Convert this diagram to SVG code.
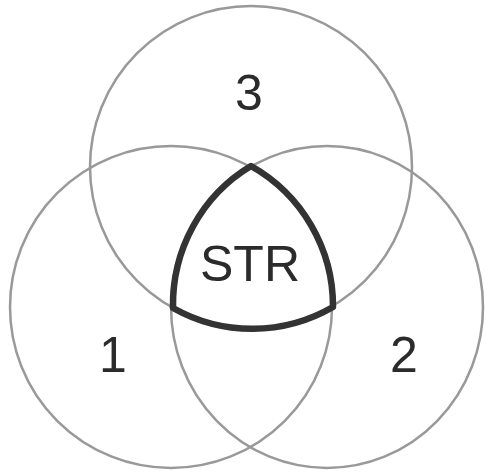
<svg xmlns="http://www.w3.org/2000/svg" width="485" height="472" viewBox="0 0 485 472">
  <style>
    .set { fill: none; stroke: #999999; stroke-width: 2.5; }
    .lbl { font-family: "Liberation Sans", Arial, sans-serif; font-size: 50px; fill: #2b2b2b; text-anchor: middle; }
    .core { fill: none; stroke: #333333; stroke-width: 6.5; stroke-linejoin: round; }
  </style>
  <rect width="485" height="472" fill="#ffffff"/>
  <g id="set3">
    <circle class="set" cx="251" cy="167" r="161"/>
  </g>
  <g id="set1">
    <circle class="set" cx="171" cy="307" r="161"/>
  </g>
  <g id="set2">
    <ellipse class="set" cx="327" cy="307" rx="156" ry="161"/>
  </g>
  <g id="str">
    <path class="core" d="M 251 166 A 158 161 0 0 0 173 308 A 161 161 0 0 0 333 307 A 161 161 0 0 0 251 166 Z"/>
    <text class="lbl" x="250" y="281">STR</text>
  </g>
  <g id="labels">
    <text class="lbl" x="249" y="110">3</text>
    <text class="lbl" x="113" y="372">1</text>
    <text class="lbl" x="404" y="372">2</text>
  </g>
</svg>
